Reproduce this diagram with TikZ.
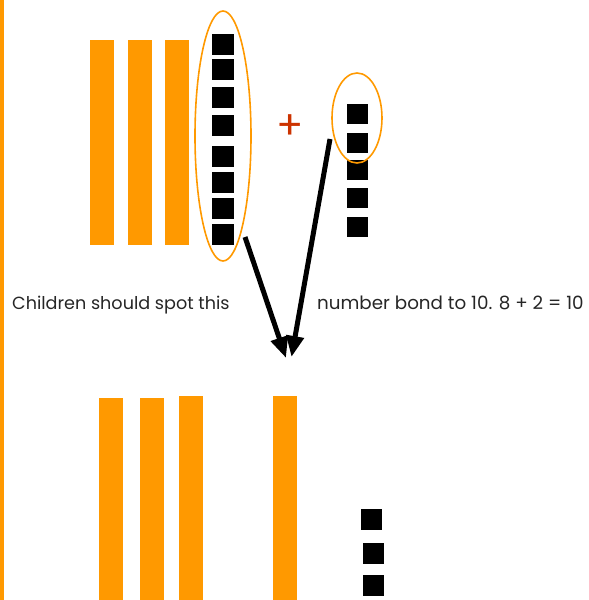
\documentclass[tikz,border=0pt]{standalone}
\usepackage{fontspec}
\setmainfont{Poppins}
\usetikzlibrary{arrows.meta,shapes.geometric}
\definecolor{barorange}{HTML}{FF9900}
\definecolor{plusred}{HTML}{CC3300}
\tikzset{
  ten/.style={fill=barorange, inner sep=0pt, minimum width=24pt, anchor=north west},
  one/.style={fill=black, inner sep=0pt, minimum width=22pt, minimum height=21pt, anchor=north west},
  ring/.style={draw=barorange, line width=1.6pt, ellipse, inner sep=0pt},
  bond/.style={line width=5pt, -{Triangle[length=21pt,width=17pt]}},
  words/.style={anchor=base west, inner sep=0pt, font=\fontsize{17.6}{21}\selectfont, text=black!85}
}
\begin{document}
\begin{tikzpicture}[x=1pt, y=-1pt]
\useasboundingbox (0,0) rectangle (589,600);
\fill[barorange] (0,0) rectangle (4,600);

\node[ten, minimum height=205pt] (t1) at (90,40) {};
\node[ten, minimum height=205pt] (t2) at (128,40) {};
\node[ten, minimum height=205pt] (t3) at (165,40) {};

\node[one] (l1) at (212,34) {};
\node[one] (l2) at (212,59) {};
\node[one] (l3) at (212,87) {};
\node[one] (l4) at (212,115) {};
\node[one] (l5) at (212,146) {};
\node[one] (l6) at (212,172) {};
\node[one] (l7) at (212,198) {};
\node[one] (l8) at (212,224) {};
\node[ring, minimum width=56pt, minimum height=250pt] (eight) at (223,136) {};

\node[text=plusred, inner sep=0pt, font=\fontsize{40}{40}\selectfont] (plus) at (290,127) {+};

\node[one, minimum width=21pt, minimum height=20pt] (r1) at (347,104) {};
\node[one, minimum width=21pt, minimum height=20pt] (r2) at (347,133) {};
\node[one, minimum width=21pt, minimum height=20pt] (r3) at (347,160) {};
\node[one, minimum width=21pt, minimum height=20pt] (r4) at (347,188) {};
\node[one, minimum width=21pt, minimum height=20pt] (r5) at (347,217) {};
\node[ring, minimum width=50pt, minimum height=90pt] (two) at (357,118) {};

\coordinate (from8) at (245,237);
\coordinate (from2) at (330,139);
\coordinate (to8) at (286,358);
\coordinate (to2) at (291.5,357);
\draw[bond] (from8) -- (to8);
\draw[bond] (from2) -- (to2);

\node[words] (spot) at (12,309) {Children should spot this};
\node[words, font=\fontsize{18.3}{21}\selectfont] (bond) at (317,309) {number bond to 10. 8 + 2 = 10};

\node[ten, minimum height=202pt] (b1) at (99,398) {};
\node[ten, minimum height=202pt] (b2) at (140,398) {};
\node[ten, minimum height=204pt] (b3) at (179,396) {};
\node[ten, minimum height=204pt] (b4) at (273,396) {};

\node[one, minimum width=21pt] (u1) at (361,509) {};
\node[one, minimum width=21pt] (u2) at (363,543) {};
\node[one, minimum width=21pt] (u3) at (363,575) {};
\end{tikzpicture}
\end{document}
